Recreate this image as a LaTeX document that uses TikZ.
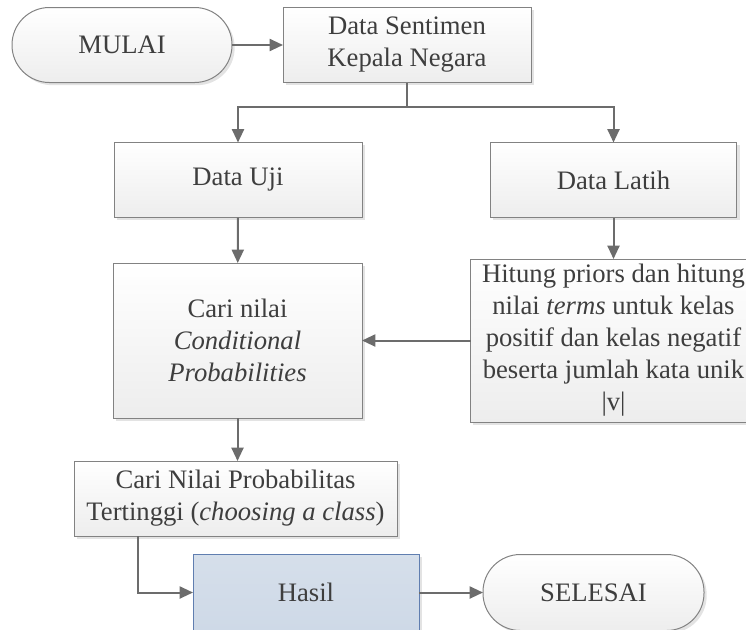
\documentclass[tikz,border=0pt]{standalone}
\usepackage{fontspec}
\setmainfont{Liberation Serif}
\usetikzlibrary{arrows.meta,shadows}
\definecolor{linegray}{RGB}{108,108,108}
\definecolor{boxgray}{RGB}{130,130,130}
\definecolor{textgray}{RGB}{62,62,62}
\definecolor{hasilfill}{RGB}{206,217,231}
\definecolor{hasildraw}{RGB}{96,126,176}
\begin{document}
\begin{tikzpicture}[x=0.75pt,y=-0.75pt,inner sep=0pt,outer sep=0pt,line width=1.5pt,
>={Triangle[length=10pt,width=9pt]},
procblock/.style={draw=boxgray,line width=0.75pt,rectangle,align=center,text=textgray,
 font=\fontsize{20}{24}\selectfont,top color=white,bottom color=black!7,
 drop shadow={shadow xshift=2pt,shadow yshift=-2pt,fill=black!22}},
termblock/.style={procblock,rounded corners=28pt},
resblock/.style={procblock,draw=hasildraw,top color=hasilfill!85,bottom color=hasilfill}]
\useasboundingbox (0,0) rectangle (746,629);
\clip (0,0) rectangle (746,629);
\draw (122,45) node[termblock,minimum width=165pt,minimum height=56.25pt] (mulai) {MULAI};
\draw (407,45) node[procblock,minimum width=186pt,minimum height=56.25pt] (sentimen) {Data Sentimen\\Kepala Negara};
\draw (238,180) node[procblock,minimum width=186pt,minimum height=56.25pt] (uji) {Data Uji};
\draw (613.5,180) node[procblock,minimum width=185pt,minimum height=56.25pt] (latih) {Data Latih};
\draw (237.5,340.5) node[procblock,minimum width=186.75pt,minimum height=116.25pt] (cari) {Cari nilai\\\textit{Conditional}\\\textit{Probabilities}};
\draw (613.5,340.5) node[procblock,minimum width=214.5pt,minimum height=122.25pt] (hitung) {Hitung priors dan hitung\\nilai \textit{terms} untuk kelas\\positif dan kelas negatif\\beserta jumlah kata unik\\|v|};
\draw (235.5,498.5) node[procblock,minimum width=242.25pt,minimum height=56.25pt] (prob) {Cari Nilai Probabilitas\\Tertinggi (\textit{choosing a class})};
\draw (306,592.5) node[resblock,minimum width=169.5pt,minimum height=57pt] (hasil) {Hasil};
\draw (593.5,592.5) node[termblock,minimum width=165.75pt,minimum height=57pt] (selesai) {SELESAI};
\coordinate (split) at (407,107);
\begin{scope}[draw=linegray]
\draw[->] (mulai) -- (sentimen);
\draw (sentimen) -- (split);
\draw[->] (split) -| (uji);
\draw[->] (split) -| (latih);
\draw[->] (uji) -- (cari);
\draw[->] (latih) -- (hitung);
\draw[->] (hitung) -- (cari);
\draw[->] (cari.south) -- (cari.south |- prob.north);
\draw[->] ([xshift=48pt]prob.south west) |- (hasil);
\draw[->] (hasil) -- (selesai);
\end{scope}
\end{tikzpicture}
\end{document}
